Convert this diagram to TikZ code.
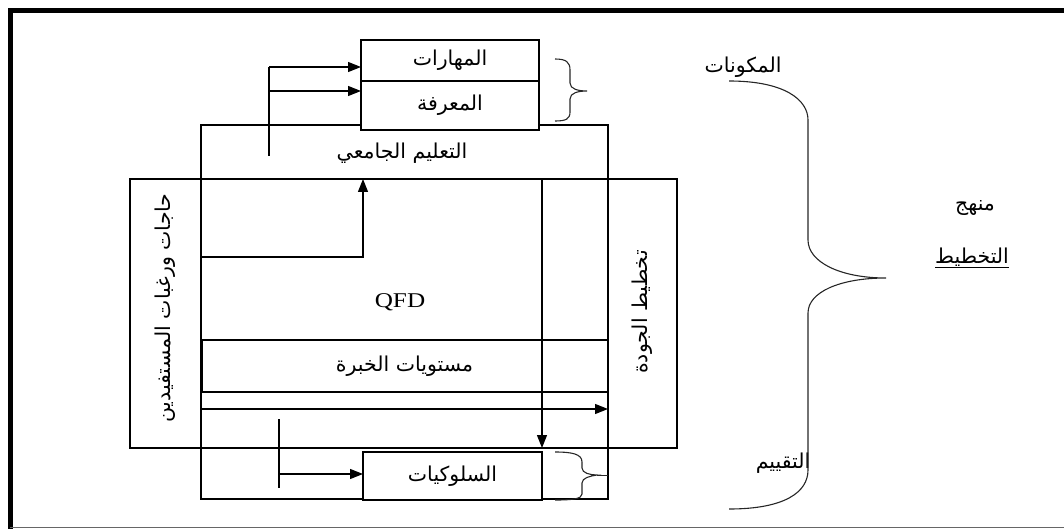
\documentclass[tikz,border=0pt]{standalone}
\usepackage{fontspec}
\setmainfont{Liberation Serif}
\newfontfamily\arabicfont[Script=Arabic]{DejaVu Sans}
\newfontfamily\qfdfont[FakeStretch=1.2]{Liberation Serif}
\TeXXeTstate=1
\usetikzlibrary{arrows.meta}
\newcommand{\artext}[1]{{\arabicfont\beginR #1\endR}}
\tikzset{
  box/.style={draw, rectangle, inner sep=0pt, outer sep=0pt, font=\fontsize{20.5}{24}\selectfont},
  lab/.style={inner sep=0pt, font=\fontsize{20.5}{24}\selectfont},
  arr/.style={-{Triangle[length=13pt,width=10pt]}},
  brace/.style={line width=1.1pt, black!85},
}
\begin{document}
\begin{tikzpicture}[x=1pt, y=-1pt, line width=1.3pt]
\useasboundingbox (0,0) rectangle (1064,529);
% outer frame
\draw[line width=5pt] (10.5,529) -- (10.5,10.5) -- (1064,10.5);
\draw[line width=1pt, black!60] (10,527.5) -- (1064,527.5);

% boxes
\node[box, minimum width=547pt, minimum height=269pt] (big) at (403.5,313.5) {};
\node[box, minimum width=407pt, minimum height=54pt] (univ) at (404.5,152) {};
\node[box, minimum width=178pt, minimum height=41pt, fill=white] (skills) at (450,60.5) {\artext{المهارات}};
\node[box, minimum width=178pt, minimum height=49pt, fill=white] (know) at (450,105.5) {\artext{المعرفة}};
\node[lab] (univtxt) at (402,153) {\artext{التعليم الجامعي}};
\node[box, minimum width=407pt, minimum height=52pt] (expr) at (404.5,366) {\artext{مستويات الخبرة}};
\node[box, minimum width=407pt, minimum height=51pt] (bot) at (404.5,473.5) {};
\node[box, minimum width=179pt, minimum height=48pt, fill=white] (behav) at (452.5,476) {\artext{السلوكيات}};

% column side lines
\draw (univ.south west) -- (bot.north west);
\draw (univ.south east) -- (bot.north east);
\draw[line width=2.8pt] ([xshift=1pt]expr.north west) -- ([xshift=1pt]expr.south west);

% texts
\node[lab, font=\qfdfont\fontsize{21}{24}\selectfont] (qfd) at (400,302) {QFD};
\node[lab, rotate=90] (needs) at (165,308) {\artext{حاجات ورغبات المستفيدين}};
\node[lab, rotate=90] (qplan) at (642,312) {\artext{تخطيط الجودة}};
\node[lab] (comp) at (743,67) {\artext{المكونات}};
\node[lab] (eval) at (783,463) {\artext{التقييم}};
\node[lab] (manhaj) at (975,208) {\artext{منهج}};
\node[lab] (takh) at (972,258) {\underline{\artext{التخطيط}}};

% connectors
\coordinate (v1top) at (269,67);
\coordinate (v1bot) at (269,156);
\coordinate (a1) at (269,91);
\draw (v1bot) -- (v1top);
\draw[arr] (v1top) -- (v1top -| skills.west);
\draw[arr] (a1) -- (a1 -| know.west);

\coordinate (up0) at (201,257);
\coordinate (upc) at (363,257);
\draw[arr] (up0) -- (upc) -- (upc |- big.north);

\coordinate (dn0) at (542,179);
\draw[arr] (dn0) -- (dn0 |- big.south);

\coordinate (h0) at (201,409);
\draw[arr] (h0) -- (h0 -| bot.east);

\coordinate (v2top) at (279,419);
\coordinate (v2bot) at (279,488);
\coordinate (a2) at (279,474);
\draw (v2top) -- (v2bot);
\draw[arr] (a2) -- (a2 -| behav.west);

% braces
\draw[brace] (555,59) .. controls (566,59) and (570,62) .. (570,70) -- (570,83)
  .. controls (570,89) and (578,91) .. (587,91)
  .. controls (578,91) and (570,93) .. (570,99) -- (570,112)
  .. controls (570,119) and (566,121) .. (555,121);

\draw[brace] (555,452) .. controls (572,452) and (582,454) .. (582,462) -- (582,468)
  .. controls (582,473) and (590,475) .. (597,475)
  .. controls (590,476) and (582,478) .. (582,483) -- (582,494)
  .. controls (582,499) and (572,500) .. (555,500);
\draw[brace] (597,475.5) -- (bot.east |- 0,475.5);

\draw[brace] (729,81) .. controls (785,81) and (808,100) .. (808,120) -- (808,240)
  .. controls (808,262) and (840,278) .. (886,278)
  .. controls (840,278) and (808,292) .. (808,313) -- (808,470)
  .. controls (808,492) and (785,509) .. (729,509);
\end{tikzpicture}
\end{document}
